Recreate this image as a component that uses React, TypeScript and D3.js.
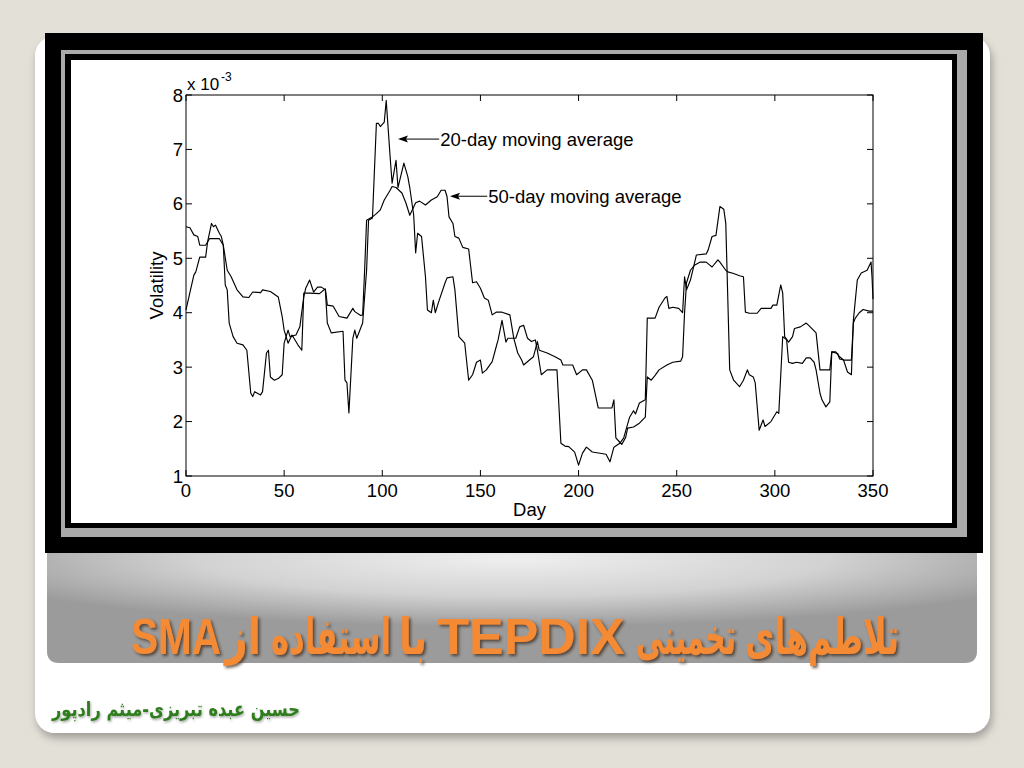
import React, { useLayoutEffect, useRef, useState } from 'react';
import * as d3 from 'd3';

const xTicks = [0, 50, 100, 150, 200, 250, 300, 350];
const yTicks = [1, 2, 3, 4, 5, 6, 7, 8];

// 20-day moving average (x 10^-3), [day, value]
const ma20: [number, number][] = [
  [0, 4.05], [4, 4.69], [5, 4.75], [7, 5.02], [10, 5.02], [11, 5.3], [13, 5.64], [14, 5.58], [15, 5.61],
  [17, 5.46], [18, 5.4], [19, 5.24], [20, 4.51], [21, 4.42], [22, 3.81], [24, 3.56], [26, 3.44], [29, 3.41],
  [31, 3.31], [33, 2.52], [34, 2.46], [35, 2.55], [38, 2.49], [39, 2.55], [41, 3.26], [42, 3.31], [43, 2.82],
  [45, 2.76], [47, 2.79], [49, 2.86], [50, 3.44], [52, 3.68], [53, 3.56], [56, 3.59], [58, 3.74], [60, 4.29],
  [61, 4.45], [63, 4.6], [65, 4.38], [67, 4.47], [69, 4.47], [71, 4.42], [72, 3.81], [74, 3.63], [80, 3.66],
  [81, 2.76], [82, 2.71], [83, 2.16], [85, 3.53], [86, 3.68], [87, 3.53], [89, 3.72], [90, 3.81], [92, 4.78],
  [93, 5.7], [95, 5.74], [97, 7.48], [98, 7.48], [99, 7.42], [101, 7.5], [102, 7.9], [104, 6.86], [105, 6.38],
  [107, 6.8], [108, 6.3], [111, 6.75], [113, 6.5], [114, 6.3], [116, 5.79], [117, 5.1], [118, 5.46], [120, 5.4],
  [122, 4.66], [123, 4.05], [125, 4.0], [126, 4.23], [127, 4.0], [129, 4.23], [132, 4.55], [133, 4.64],
  [136, 4.66], [137, 4.42], [139, 3.56], [142, 3.44], [144, 2.76], [146, 2.86], [148, 3.09], [150, 3.13],
  [151, 2.89], [153, 2.95], [156, 3.1], [158, 3.37], [159, 3.5], [161, 3.86], [163, 3.46], [164, 3.53],
  [168, 3.53], [170, 3.74], [172, 3.77], [174, 3.53], [176, 3.47], [178, 3.5], [179, 3.31], [181, 2.86],
  [184, 2.95], [189, 2.95], [191, 1.6], [193, 1.55], [195, 1.54], [198, 1.44], [200, 1.2], [202, 1.42],
  [204, 1.53], [207, 1.44], [214, 1.4], [216, 1.26], [218, 1.53], [221, 1.6], [223, 1.7], [226, 2.08],
  [228, 2.2], [229, 2.14], [231, 2.34], [234, 2.4], [235, 3.9], [239, 3.9], [241, 4.1], [244, 4.27], [245, 4.3],
  [246, 4.08], [248, 4.1], [251, 4.08], [253, 4.0], [254, 4.66], [255, 4.42], [257, 4.6], [259, 4.9], [260, 5.06],
  [265, 5.08], [266, 5.15], [268, 5.4], [270, 5.42], [272, 5.95], [274, 5.9], [275, 5.64], [277, 2.95],
  [279, 2.76], [282, 2.64], [284, 2.76], [286, 2.95], [287, 2.86], [289, 2.82], [290, 2.71], [292, 1.84],
  [294, 2.03], [295, 1.91], [298, 2.0], [299, 2.06], [301, 2.18], [302, 2.15], [304, 3.56], [306, 3.5],
  [307, 3.09], [309, 3.07], [311, 3.09], [314, 3.07], [316, 3.17], [318, 3.17], [320, 3.09], [321, 2.95],
  [323, 2.52], [324, 2.4], [326, 2.27], [328, 2.36], [329, 3.28], [331, 3.28], [333, 3.19], [335, 3.13],
  [337, 2.91], [339, 2.86], [340, 3.86], [342, 4.6], [344, 4.73], [347, 4.78], [349, 4.93], [349.5, 4.66],
  [350, 4.25],
];

// 50-day moving average (x 10^-3), [day, value]
const ma50: [number, number][] = [
  [0, 5.58], [2, 5.56], [4, 5.43], [6, 5.4], [7, 5.24], [10, 5.24], [11, 5.3], [12, 5.36], [17, 5.36],
  [19, 5.24], [21, 4.78], [23, 4.66], [26, 4.42], [29, 4.29], [32, 4.28], [34, 4.38], [38, 4.37], [39, 4.42],
  [43, 4.39], [47, 4.29], [49, 3.93], [50, 3.68], [52, 3.44], [54, 3.59], [57, 3.41], [59, 3.31], [60, 4.36],
  [63, 4.36], [68, 4.35], [71, 4.44], [72, 4.14], [75, 4.12], [78, 3.93], [82, 3.9], [85, 4.08], [86, 4.02],
  [89, 3.95], [90, 3.96], [91, 4.78], [92, 5.7], [94, 5.74], [95, 5.76], [97, 5.82], [99, 5.89], [101, 6.07],
  [104, 6.25], [105, 6.32], [107, 6.3], [110, 6.2], [112, 6.02], [114, 5.79], [117, 6.02], [119, 6.05],
  [122, 5.98], [125, 6.07], [128, 6.13], [130, 6.25], [132, 6.25], [133, 6.13], [134, 5.76], [136, 5.64],
  [137, 5.4], [139, 5.37], [141, 5.2], [144, 5.17], [146, 4.55], [148, 4.57], [150, 4.45], [152, 4.27],
  [154, 4.23], [156, 3.96], [158, 4.01], [161, 4.01], [165, 3.96], [167, 3.53], [169, 3.26], [171, 3.13],
  [172, 3.04], [175, 3.13], [177, 3.19], [179, 3.47], [180, 3.31], [184, 3.26], [188, 3.19], [191, 3.13],
  [192, 3.04], [197, 3.04], [199, 2.86], [202, 2.95], [204, 2.95], [207, 2.76], [210, 2.25], [217, 2.25],
  [218, 2.4], [219, 1.7], [221, 1.62], [222, 1.58], [224, 1.71], [225, 1.88], [228, 1.9], [231, 1.97],
  [234, 2.08], [235, 2.82], [237, 2.76], [239, 2.85], [241, 2.95], [245, 3.04], [248, 3.09], [252, 3.11],
  [253, 3.19], [254, 4.0], [255, 4.55], [257, 4.78], [259, 4.87], [262, 4.93], [265, 4.93], [267, 4.87],
  [268, 4.84], [271, 4.97], [272, 4.93], [275, 4.78], [276, 4.75], [279, 4.72], [282, 4.68], [284, 4.66],
  [285, 4.01], [287, 3.99], [291, 3.99], [293, 4.08], [298, 4.08], [299, 4.14], [301, 4.14], [303, 4.51],
  [304, 4.36], [305, 3.56], [307, 3.46], [309, 3.56], [310, 3.71], [313, 3.74], [316, 3.81], [318, 3.74],
  [321, 3.63], [323, 2.95], [328, 2.95], [329, 3.28], [332, 3.25], [333, 3.15], [335, 3.13], [339, 3.13],
  [340, 3.81], [341, 3.9], [343, 4.0], [345, 4.06], [348, 4.03], [350, 4.03],
];

const annoLabels = ['20-day moving average', '50-day moving average'];
const annoTipDay = [108, 134.5];
const annoTipVal = [7.19, 6.14];
const annoTextDay = [129.5, 154];

// Title words in reading order: تلاطم‌های تخمینی TEPDIX با استفاده ازSMA
const titleWords = ['تلاطم‌های', 'تخمینی', 'TEPDIX', 'با', 'استفاده', 'از', 'SMA'];
const titleWordCenters = [822, 686, 531, 413, 331, 243, 176];
const titleWordWidths = [154, 100, 187, 28, 120, 36, 90];
const footerText = 'حسین عبده تبریزی-میثم رادپور';
const footerWidth = 248;

const PLOT_FONT = "'Liberation Sans', Arial, Helvetica, sans-serif";

export default function App() {
  const x = d3.scaleLinear().domain([0, 350]).range([186, 873]);
  const y = d3.scaleLinear().domain([1, 8]).range([476, 95]);
  const line = d3.line<[number, number]>().x((d) => x(d[0])).y((d) => y(d[1]));
  const tick = 6;

  const titleRefs = useRef<(SVGTextElement | null)[]>([]);
  const footRef = useRef<SVGTextElement | null>(null);
  const [titleScales, setTitleScales] = useState<number[]>(titleWords.map(() => 0.8));
  const [footScale, setFootScale] = useState<number>(0.85);

  useLayoutEffect(() => {
    const s = titleRefs.current.map((el, i) => {
      if (!el) return 1;
      const w = el.getComputedTextLength();
      return w > 0 ? titleWordWidths[i] / w : 1;
    });
    setTitleScales(s);
    if (footRef.current) {
      const w = footRef.current.getComputedTextLength();
      if (w > 0) setFootScale(footerWidth / w);
    }
  }, []);

  const bandPath = 'M47,553 H977 V651 Q977,663 965,663 H59 Q47,663 47,651 Z';

  return (
    <svg width={1024} height={768} style={{ position: 'absolute', left: 0, top: 0 }}>
      <defs>
        <filter id="cardShadow" x="-5%" y="-5%" width="110%" height="112%">
          <feDropShadow dx="2" dy="5" stdDeviation="4" floodColor="#000" floodOpacity="0.3" />
        </filter>
        <filter id="titleShadow" x="-20%" y="-20%" width="140%" height="150%">
          <feDropShadow dx="2" dy="2" stdDeviation="1.5" floodColor="#3a2a1a" floodOpacity="0.75" />
        </filter>
        <filter id="footShadow" x="-5%" y="-20%" width="110%" height="150%">
          <feDropShadow dx="1" dy="1.5" stdDeviation="1" floodColor="#000" floodOpacity="0.35" />
        </filter>
        <radialGradient id="bandGrad" cx="0.5" cy="0.05" r="0.62">
          <stop offset="0" stopColor="#efefef" />
          <stop offset="0.55" stopColor="#d2d2d2" />
          <stop offset="1" stopColor="#9b9b9b" />
        </radialGradient>
      </defs>

      <rect x={0} y={0} width={1024} height={768} fill="#e3e0d8" />
      <rect x={35} y={36} width={955} height={697} rx={20} fill="#ffffff" filter="url(#cardShadow)" />

      {/* picture frame */}
      <rect x={45} y={33} width={938} height={520} fill="#000" />
      <rect x={61} y={50} width={906} height={487} fill="#aaaaaa" />
      <rect x={65} y={54} width={892} height={474} fill="#000" />
      <rect x={71} y={60} width={881} height={463} fill="#fff" />

      {/* gray band */}
      <path d={bandPath} fill="url(#bandGrad)" />

      {/* plot */}
      <g fontFamily={PLOT_FONT} fill="#000">
        <rect x={x(0)} y={y(8)} width={x(350) - x(0)} height={y(1) - y(8)} fill="#fff" stroke="#000" strokeWidth={1} />
        {xTicks.map((t) => (
          <g key={'xt' + t}>
            <line x1={x(t)} x2={x(t)} y1={y(1)} y2={y(1) - tick} stroke="#000" />
            <line x1={x(t)} x2={x(t)} y1={y(8)} y2={y(8) + tick} stroke="#000" />
            <text x={x(t)} y={y(1) + 21} fontSize={18.5} textAnchor="middle">{t}</text>
          </g>
        ))}
        {yTicks.map((t) => (
          <g key={'yt' + t}>
            <line x1={x(0)} x2={x(0) + tick} y1={y(t)} y2={y(t)} stroke="#000" />
            <line x1={x(350)} x2={x(350) - tick} y1={y(t)} y2={y(t)} stroke="#000" />
            <text x={x(0) - 3} y={y(t) + 6.5} fontSize={18.5} textAnchor="end">{t}</text>
          </g>
        ))}
        <text x={187} y={90} fontSize={17}>x 10</text>
        <text x={221} y={81} fontSize={12}>-3</text>
        <text x={(x(0) + x(350)) / 2} y={516} fontSize={18.5} textAnchor="middle">Day</text>
        <text transform={`translate(163,${(y(1) + y(8)) / 2}) rotate(-90)`} fontSize={18.5} textAnchor="middle">Volatility</text>

        <path d={line(ma50) || ''} fill="none" stroke="#000" strokeWidth={1.15} strokeLinejoin="round" />
        <path d={line(ma20) || ''} fill="none" stroke="#000" strokeWidth={1.15} strokeLinejoin="round" />

        {annoLabels.map((lab, i) => {
          const tx = x(annoTipDay[i]);
          const ty = y(annoTipVal[i]);
          const sx = x(annoTextDay[i]);
          return (
            <g key={lab}>
              <line x1={sx - 1} x2={tx + 2} y1={ty} y2={ty} stroke="#000" strokeWidth={1} />
              <path d={`M${tx},${ty} L${tx + 10},${ty - 3.5} L${tx + 8},${ty} L${tx + 10},${ty + 3.5} Z`} fill="#000" />
              <text x={sx} y={ty + 6.5} fontSize={18.5}>{lab}</text>
            </g>
          );
        })}
      </g>

      {/* title */}
      <g
        fontFamily="'Liberation Sans', 'DejaVu Sans', Arial, sans-serif"
        fontWeight="bold"
        fontSize={50}
        fill="#f58a36"
        filter="url(#titleShadow)"
      >
        {titleWords.map((w, i) => (
          <text
            key={w + i}
            ref={(el) => { titleRefs.current[i] = el; }}
            x={0}
            y={0}
            transform={`translate(${titleWordCenters[i]},654) scale(${titleScales[i]},1)`}
            direction={/[A-Z]/.test(w) ? 'ltr' : 'rtl'}
            textAnchor="middle"
          >
            {w}
          </text>
        ))}
      </g>

      {/* footer */}
      <text
        ref={footRef}
        x={0}
        y={0}
        transform={`translate(176,716) scale(${footScale},1)`}
        direction="rtl"
        textAnchor="middle"
        fontFamily="'DejaVu Sans', sans-serif"
        fontWeight="bold"
        fontSize={20}
        fill="#2f7d1c"
        filter="url(#footShadow)"
      >
        {footerText}
      </text>
    </svg>
  );
}
